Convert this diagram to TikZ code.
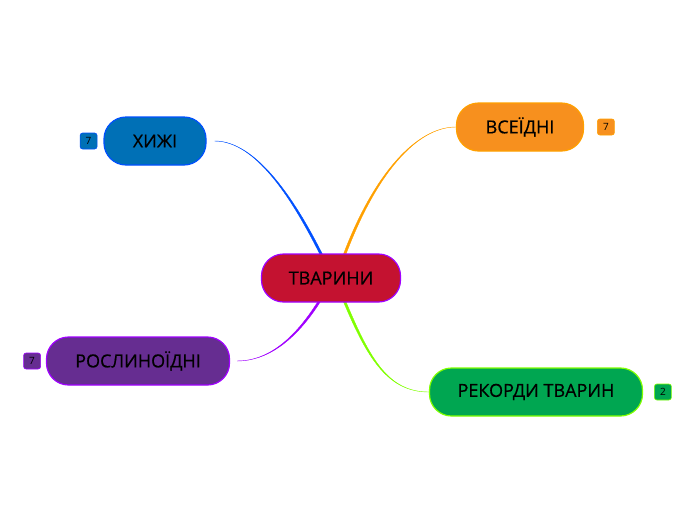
\documentclass[tikz,border=0pt]{standalone}
\usepackage{fontspec}
\setmainfont{Open Sans}
\newfontfamily\topicfont{Open Sans}[FakeBold=0.5]
\usepackage{tikz}
\usetikzlibrary{positioning,backgrounds}

\definecolor{rootfill}{HTML}{C41230}
\definecolor{violetline}{HTML}{A000FF}
\definecolor{huntfill}{HTML}{0070B6}
\definecolor{blueline}{HTML}{0050FF}
\definecolor{omnifill}{HTML}{F7901E}
\definecolor{orangeline}{HTML}{FFA000}
\definecolor{plantfill}{HTML}{662D91}
\definecolor{recfill}{HTML}{00A651}
\definecolor{greenline}{HTML}{80FF00}

\tikzset{
  topic/.style={draw=#1, line width=1.2pt, rounded corners=22pt,
    minimum height=48pt, inner xsep=10pt, font=\topicfont\fontsize{18}{18}\selectfont},
  badge/.style={draw=#1, line width=0.6pt, rounded corners=2.5pt,
    minimum width=17pt, minimum height=16pt, inner sep=0pt,
    font=\fontsize{10}{10}\selectfont},
  branch/.style={fill=#1, draw=#1, line width=0.4pt}
}

\begin{document}
\begin{tikzpicture}[x=1pt,y=-1pt]
  \useasboundingbox (0,0) rectangle (696,520);
  % topics
  \node[topic=violetline, fill=rootfill, minimum width=139pt] (animals) at (331,278) {ТВАРИНИ};
  \node[topic=blueline, fill=huntfill, minimum width=102pt] (pred) at (155,141) {ХИЖІ};
  \node[topic=orangeline, fill=omnifill, minimum width=127pt] (omni) at (520,127) {ВСЕЇДНІ};
  \node[topic=violetline, fill=plantfill, minimum width=183pt] (herb) at (138,361) {РОСЛИНОЇДНІ};
  \node[topic=greenline, fill=recfill, minimum width=213pt] (rec) at (536,392) {РЕКОРДИ ТВАРИН};

  % counters
  \node[badge=blueline, fill=huntfill, left=6pt of pred] (predn) {7};
  \node[badge=orangeline, fill=omnifill, right=13pt of omni] (omnin) {7};
  \node[badge=violetline, fill=plantfill, left=5pt of herb] (herbn) {7};
  \node[badge=greenline, fill=recfill, right=11pt of rec] (recn) {2};

  % branches (thin at the topic, thick at the root)
  \begin{scope}[on background layer]
  \path[branch=blueline] ([xshift=8pt]pred.east) .. controls +(40,0) and +(-30,-60) .. ([xshift=-10.5pt,yshift=-2pt]animals.north)
    -- ([xshift=-8pt,yshift=-2pt]animals.north) .. controls +(-30,-60) and +(40,0) .. ([xshift=8pt]pred.east) -- cycle;
  \path[branch=orangeline] ([xshift=12pt,yshift=-2pt]animals.north) .. controls +(30,-80) and +(-40,0) .. (omni.west)
    .. controls +(-40,0) and +(30,-80) .. ([xshift=14.5pt,yshift=-2pt]animals.north) -- cycle;
  \path[branch=violetline] ([xshift=-12.5pt,yshift=2pt]animals.south) .. controls +(-25,40) and +(30,0) .. ([xshift=7pt]herb.east)
    .. controls +(30,0) and +(-25,40) .. ([xshift=-10pt,yshift=2pt]animals.south) -- cycle;
  \path[branch=greenline] ([xshift=12pt,yshift=2pt]animals.south) .. controls +(25,60) and +(-40,0) .. (rec.west)
    .. controls +(-40,0) and +(25,60) .. ([xshift=14.5pt,yshift=2pt]animals.south) -- cycle;
  \end{scope}
\end{tikzpicture}
\end{document}
